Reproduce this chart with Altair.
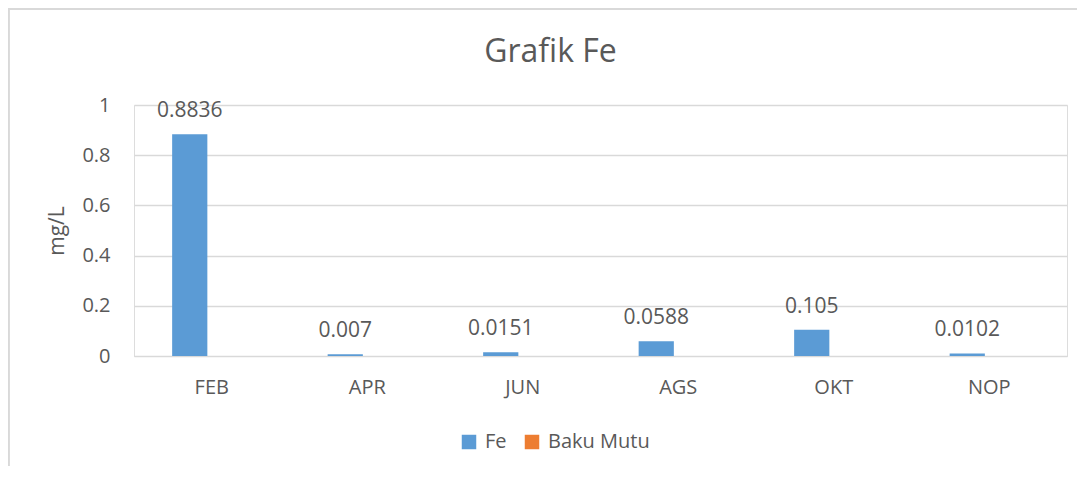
import altair as alt
import pandas as pd

months = ["FEB", "APR", "JUN", "AGS", "OKT", "NOP"]
fe_values = [0.8836, 0.007, 0.0151, 0.0588, 0.105, 0.0102]
baku_mutu_values = [0, 0, 0, 0, 0, 0]
series_names = ["Fe", "Baku Mutu"]
series_colors = ["#5B9BD5", "#ED7D31"]
y_ticks = [0, 0.2, 0.4, 0.6, 0.8, 1]

rows = []
for m, v in zip(months, fe_values):
    rows.append({"bulan": m, "seri": "Fe", "nilai": v, "label": str(v)})
for m, v in zip(months, baku_mutu_values):
    rows.append({"bulan": m, "seri": "Baku Mutu", "nilai": v, "label": ""})
df = pd.DataFrame(rows)

FONT = "Open Sans"
GRAY = "#595959"

x_enc = alt.X("bulan:N", sort=months, title=None,
              scale=alt.Scale(paddingInner=0.434, paddingOuter=0.217),
              axis=alt.Axis(labelAngle=0, ticks=False, domainColor="#d9d9d9",
                            labelFontSize=20, labelColor=GRAY, labelFont=FONT,
                            labelPadding=21))
xoff_enc = alt.XOffset("seri:N", sort=series_names,
                       scale=alt.Scale(paddingInner=0.2, paddingOuter=0.1))
y_enc = alt.Y("nilai:Q", title="mg/L",
              scale=alt.Scale(domain=[0, 1], nice=False),
              axis=alt.Axis(values=y_ticks, format="~g", domain=False, ticks=False,
                            gridColor="#d9d9d9", gridWidth=1.3,
                            labelFontSize=20, labelColor=GRAY, labelFont=FONT,
                            labelPadding=24, titleFontSize=21, titleFontWeight="normal",
                            titleColor=GRAY, titleFont=FONT, titlePadding=14))

bars = alt.Chart(df).mark_bar().encode(
    x=x_enc,
    xOffset=xoff_enc,
    y=y_enc,
    color=alt.Color("seri:N", sort=series_names,
                    scale=alt.Scale(domain=series_names, range=series_colors),
                    legend=alt.Legend(title=None, orient="none", direction="horizontal",
                                      legendX=325, legendY=327,
                                      symbolType="square", symbolSize=210,
                                      symbolStrokeWidth=0,
                                      labelFontSize=20, labelColor=GRAY, labelFont=FONT,
                                      labelOffset=6, columnPadding=15)),
)

labels = alt.Chart(df).transform_filter(alt.datum.seri == "Fe").mark_text(
    baseline="middle", dy=-23, fontSize=21, color=GRAY, font=FONT
).encode(
    x=alt.X("bulan:N", sort=months),
    xOffset=alt.XOffset("seri:N", sort=series_names),
    y="nilai:Q",
    text="label:N",
)

frame = alt.Chart(df).mark_rect(fill=None, stroke="#d9d9d9", strokeWidth=1.5).encode(
    x=alt.value(-125.5), x2=alt.value(980), y=alt.value(-96), y2=alt.value(400)
)

chart = alt.layer(frame, bars, labels).properties(
    width=933,
    height=251,
    autosize=alt.AutoSizeParams(type="none"),
    padding={"left": 126, "top": 97, "right": 10, "bottom": 110},
    title=alt.TitleParams("Grafik Fe", fontSize=32, font=FONT, color=GRAY,
                          fontWeight="normal", anchor="middle", dx=-50, offset=-61),
).configure_view(stroke=None).configure(background="white")

chart.save("out.html", embed_options={"renderer": "svg", "actions": False})
